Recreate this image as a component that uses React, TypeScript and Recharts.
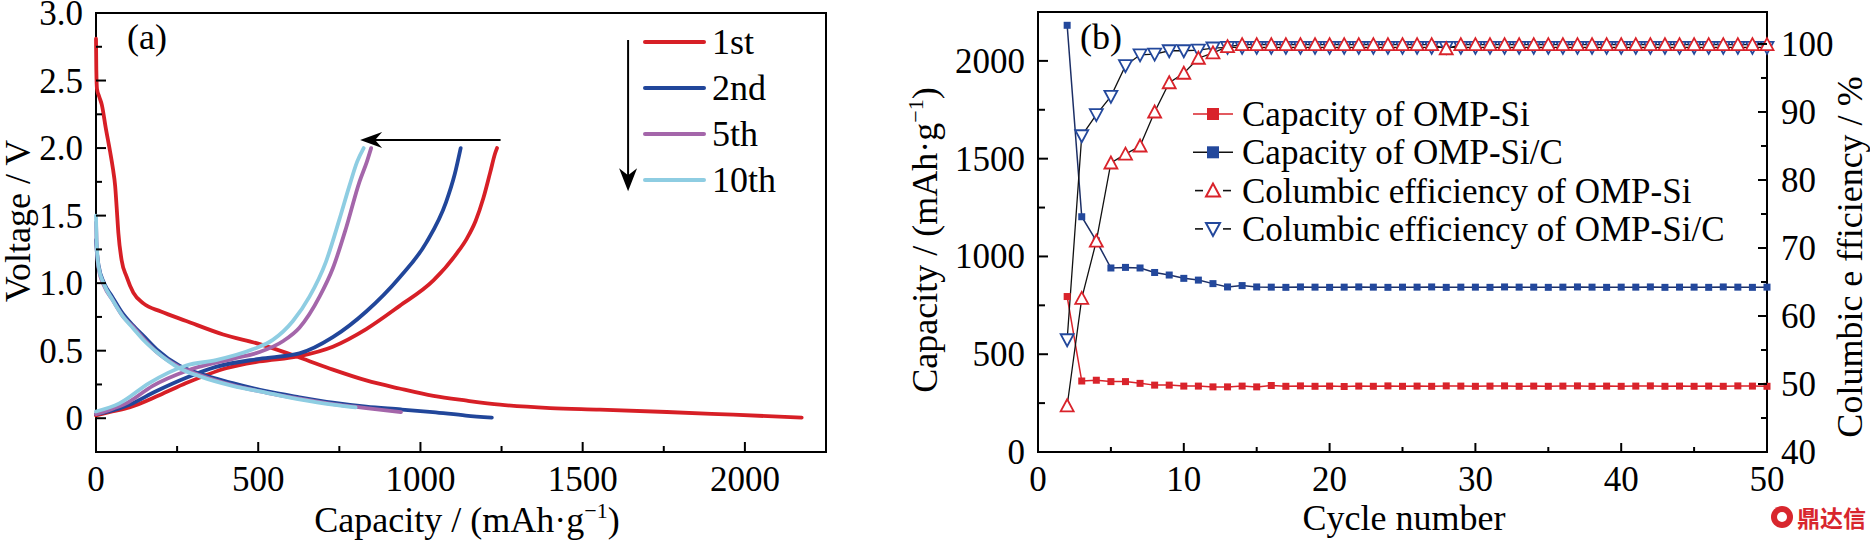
import React from 'react'
import {
  LineChart,
  Line,
  XAxis,
  YAxis,
  Legend,
  ReferenceArea,
  ReferenceLine,
  ReferenceDot,
} from 'recharts'

// ---- (a) voltage profiles: [capacity mAh/g, voltage V] ----
const dis1st = [
  [0, 2.81], [1, 2.58], [3, 2.44], [10, 2.38], [18, 2.32], [30, 2.15], [43, 1.98],
  [52, 1.85], [59, 1.72], [64, 1.55], [69, 1.37], [79, 1.17], [94, 1.05], [115, 0.93],
  [146, 0.85], [200, 0.79], [278, 0.72], [392, 0.62], [502, 0.55], [627, 0.45],
  [730, 0.36], [833, 0.28], [935, 0.22], [1040, 0.165], [1143, 0.13], [1245, 0.1],
  [1400, 0.075], [1553, 0.064], [1759, 0.046], [1964, 0.026], [2175, 0.005],
]
const ch1st = [
  [0, 0.02], [50, 0.05], [103, 0.08], [195, 0.17], [278, 0.26], [401, 0.37], [504, 0.42],
  [627, 0.46], [730, 0.53], [833, 0.66], [935, 0.83], [1040, 1.02], [1112, 1.22],
  [1143, 1.33], [1170, 1.46], [1194, 1.63], [1215, 1.82], [1230, 1.96], [1236, 2.0],
]
const dis2nd = [
  [0, 1.32], [2, 1.25], [8, 1.13], [25, 1.0], [50, 0.9], [84, 0.77], [113, 0.69],
  [150, 0.6], [187, 0.51], [257, 0.39], [320, 0.33], [421, 0.26], [524, 0.2],
  [627, 0.155], [730, 0.115], [833, 0.085], [940, 0.065], [1038, 0.045], [1140, 0.02],
  [1220, 0.005],
]
const ch2nd = [
  [0, 0.03], [40, 0.05], [103, 0.1], [185, 0.2], [278, 0.3], [370, 0.38], [504, 0.44],
  [627, 0.48], [730, 0.6], [833, 0.79], [935, 1.04], [1018, 1.3], [1079, 1.6],
  [1105, 1.8], [1124, 2.0],
]
const dis5th = [
  [0, 1.45], [2, 1.28], [8, 1.11], [25, 0.98], [50, 0.88], [84, 0.75], [113, 0.68],
  [150, 0.58], [187, 0.49], [257, 0.38], [320, 0.32], [421, 0.245], [524, 0.19],
  [627, 0.145], [730, 0.105], [833, 0.075], [940, 0.045],
]
const ch5th = [
  [0, 0.03], [40, 0.06], [93, 0.11], [175, 0.24], [278, 0.35], [421, 0.44], [504, 0.49],
  [576, 0.57], [627, 0.67], [689, 0.9], [730, 1.11], [771, 1.41], [812, 1.75],
  [835, 1.9], [848, 2.0],
]
const dis10th = [
  [0, 1.5], [2, 1.3], [8, 1.12], [25, 0.99], [50, 0.88], [84, 0.75], [113, 0.67],
  [150, 0.57], [187, 0.49], [257, 0.37], [320, 0.31], [421, 0.24], [524, 0.19],
  [627, 0.14], [730, 0.1], [800, 0.08],
]
const ch10th = [
  [0, 0.05], [72, 0.11], [164, 0.26], [278, 0.39], [370, 0.43], [483, 0.51], [545, 0.58],
  [607, 0.72], [658, 0.9], [709, 1.16], [750, 1.47], [781, 1.72], [805, 1.9], [825, 2.0],
]
const cycleLabels = ['1st', '2nd', '5th', '10th']
const capTicksA = [0, 250, 500, 750, 1000, 1250, 1500, 1750, 2000]
const voltTicks = [0, 0.25, 0.5, 0.75, 1, 1.25, 1.5, 1.75, 2, 2.25, 2.5, 2.75, 3]

// ---- (b) cycling ----
const cycles = [
  2, 3, 4, 5, 6, 7, 8, 9, 10, 11, 12, 13, 14, 15, 16, 17, 18, 19, 20, 21, 22, 23, 24, 25,
  26, 27, 28, 29, 30, 31, 32, 33, 34, 35, 36, 37, 38, 39, 40, 41, 42, 43, 44, 45, 46, 47,
  48, 49, 50,
]
const capSi = [
  795, 363, 367, 360, 360, 351, 342, 342, 337, 337, 333, 333, 337, 333, 340, 336, 338, 336,
  337, 335, 337, 336, 338, 336, 337, 336, 338, 337, 336, 337, 338, 336, 337, 336, 337, 338,
  336, 337, 336, 337, 338, 336, 337, 336, 337, 336, 338, 337, 336,
]
const capSiC = [
  2182, 1203, 1080, 941, 944, 941, 918, 905, 888, 879, 861, 844, 851, 844, 843, 842, 844,
  843, 842, 843, 844, 843, 842, 843, 843, 844, 842, 843, 843, 842, 844, 843, 843, 842, 843,
  844, 843, 842, 843, 843, 844, 842, 843, 843, 842, 844, 843, 842, 843,
]
const ceSi = [
  46.8, 62.6, 71.0, 82.5, 83.8, 85.0, 90.0, 94.3, 95.7, 97.9, 98.7, 99.6, 99.9, 99.9, 99.9,
  99.9, 99.9, 99.9, 99.9, 99.9, 99.9, 99.9, 99.9, 99.9, 99.9, 99.9, 99.3, 99.9, 99.9, 99.9,
  99.9, 99.9, 99.9, 99.9, 99.9, 99.9, 99.9, 99.9, 99.9, 99.9, 99.9, 99.9, 99.9, 99.9, 99.9,
  99.9, 99.9, 99.9, 99.9,
]
const ceSiC = [
  56.5, 86.5, 89.6, 92.3, 96.8, 98.4, 98.5, 99.0, 99.0, 99.1, 99.4, 99.5, 99.5, 99.5, 99.5,
  99.5, 99.5, 99.5, 99.5, 99.5, 99.5, 99.5, 99.5, 99.5, 99.5, 99.5, 99.5, 99.5, 99.5, 99.5,
  99.5, 99.5, 99.5, 99.5, 99.5, 99.5, 99.5, 99.5, 99.5, 99.5, 99.5, 99.5, 99.5, 99.5, 99.5,
  99.5, 99.5, 99.5, 99.5,
]
const seriesNamesB = [
  'Capacity of OMP-Si',
  'Capacity of OMP-Si/C',
  'Columbic efficiency of OMP-Si',
  'Columbic efficiency of OMP-Si/C',
]
const cycleTicks = [0, 5, 10, 15, 20, 25, 30, 35, 40, 45, 50]
const capTicksB = [0, 250, 500, 750, 1000, 1250, 1500, 1750, 2000]
const ceTicks = [40, 45, 50, 55, 60, 65, 70, 75, 80, 85, 90, 95, 100]

const serif = "'Liberation Serif', 'Times New Roman', serif"
const RED = '#d71f26'
const BLUE = '#21469a'
const PURPLE = '#a466aa'
const CYAN = '#8ecde2'
const RED_B = '#d9232b'
const BLUE_B = '#23489c'

const pts = (arr: number[][]) => arr.map(([cap, v]) => ({ cap, v }))

const dataB = cycles.map((c, i) => ({
  cycle: c,
  capSi: capSi[i],
  capSiC: capSiC[i],
  ceSi: ceSi[i],
  ceSiC: ceSiC[i],
}))

const isMult = (v: number, step: number) => Math.abs(v / step - Math.round(v / step)) < 1e-6

// inward ticks drawn by the tick renderer
function BottomTick(props: any) {
  const { x, y, payload, step, lenMajor, lenMinor } = props
  const major = isMult(payload.value, step)
  return (
    <g>
      <line x1={x} y1={y} x2={x} y2={y - (major ? lenMajor : lenMinor)} stroke="#000" strokeWidth={2} />
      {major && (
        <text x={x} y={y + 39} textAnchor="middle" fontFamily={serif} fontSize={35} fill="#000">
          {payload.value}
        </text>
      )}
    </g>
  )
}

function LeftTick(props: any) {
  const { x, y, payload, step, lenMajor, lenMinor, fmt } = props
  const major = isMult(payload.value, step)
  return (
    <g>
      <line x1={x} y1={y} x2={x + (major ? lenMajor : lenMinor)} y2={y} stroke="#000" strokeWidth={2} />
      {major && (
        <text x={x - 13} y={y + 12} textAnchor="end" fontFamily={serif} fontSize={35} fill="#000">
          {fmt ? fmt(payload.value) : payload.value}
        </text>
      )}
    </g>
  )
}

function RightTick(props: any) {
  const { x, y, payload } = props
  const major = isMult(payload.value, 10)
  return (
    <g>
      <line x1={x} y1={y} x2={x - (major ? 9 : 6)} y2={y} stroke="#000" strokeWidth={2} />
      {major && (
        <text x={x + 14} y={y + 12} textAnchor="start" fontFamily={serif} fontSize={35} fill="#000">
          {payload.value}
        </text>
      )}
    </g>
  )
}

function LegendA({ payload }: any) {
  const items = cycleLabels
    .map((n) => (payload || []).find((p: any) => p.value === n))
    .filter(Boolean)
  return (
    <svg width={260} height={200}>
      {items.map((p: any, i: number) => {
        const y = 32 + i * 46
        return (
          <g key={p.value}>
            <line x1={45} y1={y} x2={104} y2={y} stroke={p.color} strokeWidth={4} strokeLinecap="round" />
            <text x={112} y={y + 12} fontFamily={serif} fontSize={36} fill="#000">
              {p.value}
            </text>
          </g>
        )
      })}
    </svg>
  )
}

function tri(cx: number, cy: number, up: boolean, s = 6.5) {
  return up
    ? `${cx},${cy - s} ${cx - s},${cy + s * 0.85} ${cx + s},${cy + s * 0.85}`
    : `${cx},${cy + s} ${cx - s},${cy - s * 0.85} ${cx + s},${cy - s * 0.85}`
}

function LegendB({ payload }: any) {
  const items = seriesNamesB
    .map((n) => (payload || []).find((p: any) => p.value === n))
    .filter(Boolean)
  return (
    <svg width={660} height={170}>
      {items.map((p: any, i: number) => {
        const y = 24 + i * 38.3
        const isCap = i < 2
        const col = i % 2 === 0 ? RED_B : BLUE_B
        return (
          <g key={p.value}>
            {isCap ? (
              <>
                <line x1={13} y1={y} x2={53} y2={y} stroke={i === 0 ? RED_B : '#111'} strokeWidth={1.6} />
                <rect x={27} y={y - 6} width={12} height={12} fill={col} />
              </>
            ) : (
              <>
                <line x1={15} y1={y} x2={23} y2={y} stroke="#111" strokeWidth={1.6} />
                <line x1={43} y1={y} x2={51} y2={y} stroke="#111" strokeWidth={1.6} />
                <polygon points={tri(33, y, i === 2, 7)} fill="#fff" stroke={col} strokeWidth={2} />
              </>
            )}
            <text x={62} y={y + 12} fontFamily={serif} fontSize={35} fill="#000">
              {p.value}
            </text>
          </g>
        )
      })}
    </svg>
  )
}

const squareDot = (color: string) => (p: any) => (
  <rect key={`s-${p.index}`} x={p.cx - 3.5} y={p.cy - 3.5} width={7} height={7} fill={color} />
)
const triDot = (color: string, up: boolean) => (p: any) => (
  <polygon key={`t-${p.index}`} points={tri(p.cx, p.cy, up)} fill="#fff" stroke={color} strokeWidth={1.8} />
)

const lineA = (data: number[][], color: string, name: string, legend: boolean) => (
  <Line
    key={name}
    data={pts(data)}
    dataKey="v"
    name={name}
    type="monotone"
    stroke={color}
    strokeWidth={3.8}
    strokeLinecap="round"
    dot={false}
    activeDot={false}
    legendType={legend ? 'line' : 'none'}
    isAnimationActive={false}
  />
)

export default function App() {
  return (
    <div style={{ position: 'absolute', left: 0, top: 0, width: 1870, height: 540, background: '#fff' }}>
      {/* (a) */}
      <div style={{ position: 'absolute', left: 0, top: 0 }}>
        <LineChart width={900} height={540} margin={{ top: 13, right: 74, bottom: 48, left: 36 }}>
          <XAxis
            dataKey="cap"
            type="number"
            domain={[0, 2250]}
            ticks={capTicksA}
            interval={0}
            height={40}
            axisLine={false}
            tickLine={false}
            tickSize={0}
            tickMargin={0}
            tick={(p: any) => <BottomTick {...p} step={500} lenMajor={10} lenMinor={6} />}
          />
          <YAxis
            type="number"
            domain={[-0.25, 3]}
            ticks={voltTicks}
            interval={0}
            width={60}
            axisLine={false}
            tickLine={false}
            tickSize={0}
            tickMargin={0}
            tick={(p: any) => (
              <LeftTick {...p} step={0.5} lenMajor={10} lenMinor={6} fmt={(v: number) => (v === 0 ? '0' : v.toFixed(1))} />
            )}
          />
          <ReferenceArea x1={0} x2={2250} y1={-0.25} y2={3} fill="none" stroke="#000" strokeWidth={2} />
          {lineA(dis1st, RED, '1st discharge', false)}
          {lineA(ch1st, RED, '1st', true)}
          {lineA(dis2nd, BLUE, '2nd discharge', false)}
          {lineA(ch2nd, BLUE, '2nd', true)}
          {lineA(dis5th, PURPLE, '5th discharge', false)}
          {lineA(ch5th, PURPLE, '5th', true)}
          {lineA(dis10th, CYAN, '10th discharge', false)}
          {lineA(ch10th, CYAN, '10th', true)}
          <ReferenceLine segment={[{ x: 1247, y: 2.06 }, { x: 830, y: 2.06 }]} stroke="#000" strokeWidth={2} />
          <ReferenceDot
            x={814}
            y={2.06}
            shape={(p: any) => (
              <polygon points={`${p.cx},${p.cy} ${p.cx + 22},${p.cy - 8} ${p.cx + 15},${p.cy} ${p.cx + 22},${p.cy + 8}`} fill="#000" />
            )}
          />
          <ReferenceLine segment={[{ x: 1640, y: 2.8 }, { x: 1640, y: 1.78 }]} stroke="#000" strokeWidth={2} />
          <ReferenceDot
            x={1640}
            y={1.68}
            shape={(p: any) => (
              <polygon points={`${p.cx},${p.cy} ${p.cx - 9},${p.cy - 23} ${p.cx},${p.cy - 16} ${p.cx + 9},${p.cy - 23}`} fill="#000" />
            )}
          />
          <Legend
            layout="vertical"
            align="center"
            verticalAlign="middle"
            content={<LegendA />}
            wrapperStyle={{ position: 'absolute', left: 600, top: 10, width: 260, height: 200 }}
          />
        </LineChart>
      </div>

      {/* (b) */}
      <div style={{ position: 'absolute', left: 940, top: 0 }}>
        <LineChart width={930} height={540} data={dataB} margin={{ top: 12, right: 43, bottom: 48, left: 38 }}>
          <XAxis
            dataKey="cycle"
            type="number"
            domain={[0, 50]}
            ticks={cycleTicks}
            interval={0}
            height={40}
            axisLine={false}
            tickLine={false}
            tickSize={0}
            tickMargin={0}
            tick={(p: any) => <BottomTick {...p} step={10} lenMajor={9} lenMinor={5} />}
          />
          <YAxis
            yAxisId="cap"
            type="number"
            domain={[0, 2250]}
            ticks={capTicksB}
            interval={0}
            width={60}
            axisLine={false}
            tickLine={false}
            tickSize={0}
            tickMargin={0}
            tick={(p: any) => <LeftTick {...p} step={500} lenMajor={10} lenMinor={7} />}
          />
          <YAxis
            yAxisId="ce"
            orientation="right"
            type="number"
            domain={[40, 104.7]}
            ticks={ceTicks}
            interval={0}
            width={60}
            axisLine={false}
            tickLine={false}
            tickSize={0}
            tickMargin={0}
            tick={(p: any) => <RightTick {...p} />}
          />
          <ReferenceArea yAxisId="cap" x1={0} x2={50} y1={0} y2={2250} fill="none" stroke="#000" strokeWidth={2} />
          <Line
            yAxisId="cap"
            dataKey="capSiC"
            name={seriesNamesB[1]}
            type="linear"
            stroke="#1c2f66"
            strokeWidth={1.5}
            dot={squareDot(BLUE_B)}
            activeDot={false}
            isAnimationActive={false}
          />
          <Line
            yAxisId="cap"
            dataKey="capSi"
            name={seriesNamesB[0]}
            type="linear"
            stroke={RED_B}
            strokeWidth={1.5}
            dot={squareDot(RED_B)}
            activeDot={false}
            isAnimationActive={false}
          />
          <Line
            yAxisId="ce"
            dataKey="ceSiC"
            name={seriesNamesB[3]}
            type="linear"
            stroke="#111"
            strokeWidth={1.3}
            dot={triDot(BLUE_B, false)}
            activeDot={false}
            isAnimationActive={false}
          />
          <Line
            yAxisId="ce"
            dataKey="ceSi"
            name={seriesNamesB[2]}
            type="linear"
            stroke="#111"
            strokeWidth={1.3}
            dot={triDot(RED_B, true)}
            activeDot={false}
            isAnimationActive={false}
          />
          <Legend
            layout="vertical"
            align="center"
            verticalAlign="middle"
            content={<LegendB />}
            wrapperStyle={{ position: 'absolute', left: 240, top: 90, width: 660, height: 170 }}
          />
        </LineChart>
      </div>

      {/* titles and panel letters */}
      <svg
        width={1870}
        height={540}
        style={{ position: 'absolute', left: 0, top: 0, pointerEvents: 'none' }}
        fontFamily={serif}
        fill="#000"
      >
        <text x={127} y={49} fontSize={36}>(a)</text>
        <text x={1080} y={49} fontSize={36}>(b)</text>
        <text x={467} y={532} fontSize={36} textAnchor="middle">
          Capacity / (mAh·g<tspan dy={-14} fontSize={22}>−1</tspan>
          <tspan dy={14}>)</tspan>
        </text>
        <text x={1404} y={530} fontSize={36} textAnchor="middle">Cycle number</text>
        <text transform="translate(30,221) rotate(-90)" fontSize={36} textAnchor="middle">Voltage / V</text>
        <text transform="translate(937,240) rotate(-90)" fontSize={36} textAnchor="middle">
          Capacity / (mAh·g<tspan dy={-14} fontSize={22}>−1</tspan>
          <tspan dy={14}>)</tspan>
        </text>
        <text transform="translate(1862,257) rotate(-90)" fontSize={36} textAnchor="middle">
          Columbic e<tspan dx={9}>fficiency / %</tspan>
        </text>
        <g>
          <circle cx={1782} cy={517} r={11} fill="#d8262d" />
          <circle cx={1782} cy={517} r={5} fill="#fff" />
          <text x={1797} y={527} fontSize={23} fontWeight="bold" fill="#d8262d" fontFamily="'Noto Sans CJK SC', sans-serif">
            鼎达信
          </text>
        </g>
      </svg>
    </div>
  )
}
